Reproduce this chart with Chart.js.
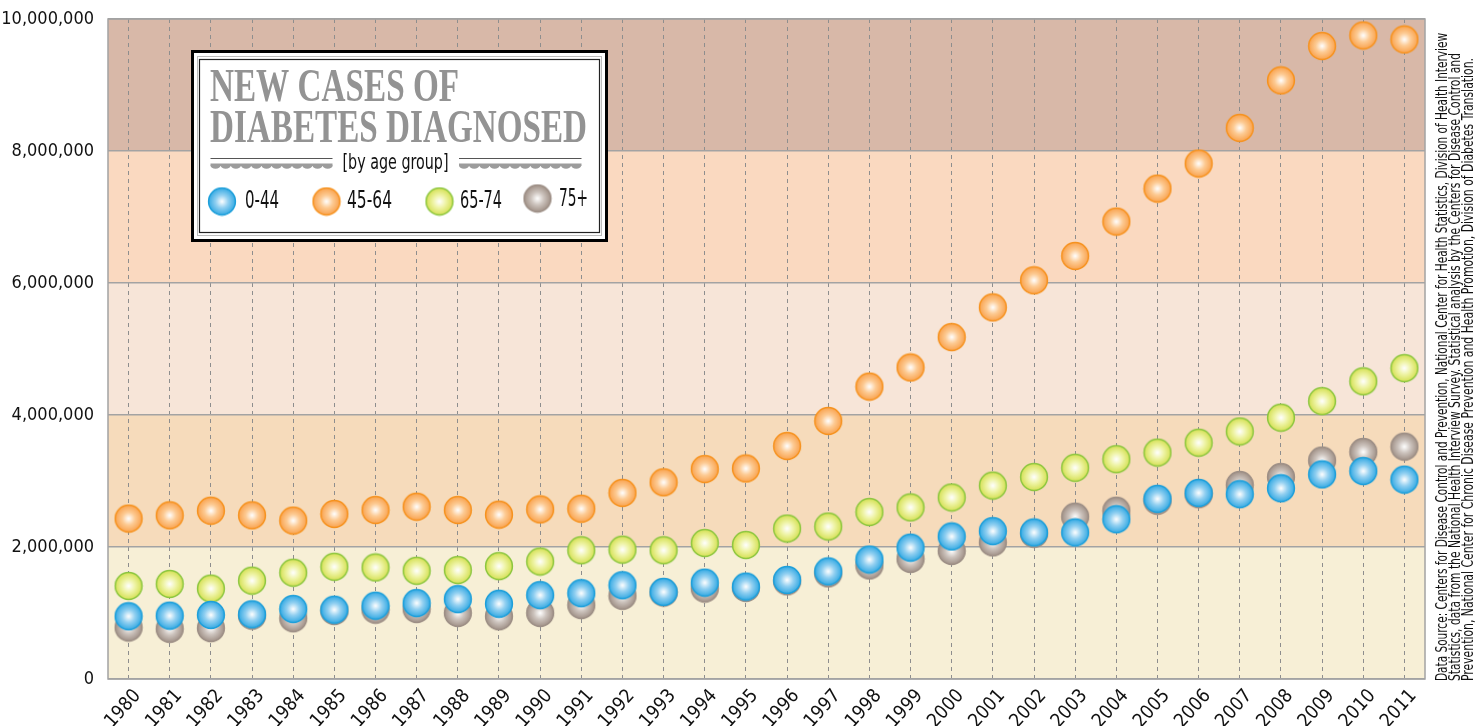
<!DOCTYPE html>
<html>
<head>
<meta charset="utf-8">
<title>New cases of diabetes diagnosed</title>
<script src="https://cdn.jsdelivr.net/npm/chart.js@4.4.1/dist/chart.umd.min.js"></script>
<style>
  html, body { margin: 0; padding: 0; background: #fff; }
  canvas { display: block; }
</style>
</head>
<body>
<canvas id="diabetes-canvas" width="1479" height="726"></canvas>
<script>
// values (people, new cases per year)
const years = ["1980","1981","1982","1983","1984","1985","1986","1987","1988","1989","1990",
  "1991","1992","1993","1994","1995","1996","1997","1998","1999","2000",
  "2001","2002","2003","2004","2005","2006","2007","2008","2009","2010","2011"];

const age0to44 = [950000, 960000, 970000, 980000, 1060000, 1050000, 1110000, 1150000, 1210000, 1140000, 1270000,
  1300000, 1420000, 1320000, 1460000, 1400000, 1500000, 1630000, 1810000, 1990000, 2160000,
  2240000, 2220000, 2220000, 2420000, 2730000, 2820000, 2800000, 2890000, 3100000, 3150000, 3020000];

const age45to64 = [2430000, 2480000, 2550000, 2480000, 2400000, 2500000, 2560000, 2610000, 2560000, 2490000, 2570000,
  2580000, 2820000, 2980000, 3180000, 3190000, 3530000, 3910000, 4430000, 4720000, 5180000,
  5630000, 6040000, 6410000, 6930000, 7430000, 7810000, 8350000, 9070000, 9590000, 9750000, 9690000];

const age65to74 = [1410000, 1440000, 1370000, 1490000, 1610000, 1700000, 1690000, 1640000, 1650000, 1710000, 1780000,
  1950000, 1960000, 1950000, 2060000, 2030000, 2280000, 2310000, 2530000, 2600000, 2750000,
  2930000, 3060000, 3200000, 3330000, 3430000, 3580000, 3750000, 3960000, 4210000, 4510000, 4710000];

const age75plus = [780000, 760000, 770000, 960000, 920000, 1030000, 1050000, 1060000, 1000000, 950000, 1000000,
  1120000, 1260000, 1310000, 1370000, 1380000, 1480000, 1600000, 1720000, 1820000, 1940000,
  2070000, 2200000, 2460000, 2550000, 2700000, 2800000, 2940000, 3060000, 3310000, 3440000, 3520000];

const yTicks = [0, 2000000, 4000000, 6000000, 8000000, 10000000];
const seriesNames = ["0-44", "45-64", "65-74", "75+"];

const sourceLines = [
  "Data Source: Centers for Disease Control and Prevention, National Center for Health Statistics, Division of Health Interview",
  "Statistics, data from the National Health Interview Survey. Statistical analysis by the Centers for Disease Control and",
  "Prevention, National Center for Chronic Disease Prevention and Health Promotion, Division of Diabetes Translation.",
];
const sourceWidths = [648, 628, 623];

// band colours from bottom (0-2M) to top (8-10M)
const bandColors = ["#f7efd6", "#f6dbbb", "#f7e5d8", "#fad9c0", "#d8b8a8"];

const narrow = '"Liberation Sans Narrow", "DejaVu Sans Condensed", "Roboto Condensed", sans-serif';

// shiny ball used as point style and in the legend box
function makeBall(mid, edge, border) {
  const c = document.createElement("canvas");
  c.width = 30;
  c.height = 30;
  const g = c.getContext("2d");
  const grad = g.createRadialGradient(15, 15, 0, 15, 15, 14);
  grad.addColorStop(0, "#ffffff");
  grad.addColorStop(0.45, mid);
  grad.addColorStop(1, edge);
  g.beginPath();
  g.arc(15, 15, 13.4, 0, Math.PI * 2);
  g.fillStyle = grad;
  g.fill();
  g.lineWidth = 1.5;
  g.strokeStyle = border;
  g.stroke();
  return c;
}

const balls = [
  makeBall("#92d0f1", "#2fa7e2", "#1d9fda"),
  makeBall("#fdcb94", "#f9a04a", "#f6921e"),
  makeBall("#eff4a6", "#d3df4f", "#8cc63f"),
  makeBall("#cdc4be", "#9d8d83", "#9d8f86"),
];

const fmt = (v) => Number(v).toLocaleString("en-US");

// background bands + outer frame
const bands = {
  id: "bands",
  beforeDraw(chart) {
    const { ctx, chartArea: a, scales: { y } } = chart;
    ctx.save();
    for (let i = 0; i < yTicks.length - 1; i++) {
      const top = y.getPixelForValue(yTicks[i + 1]);
      const bot = y.getPixelForValue(yTicks[i]);
      ctx.fillStyle = bandColors[i];
      ctx.fillRect(a.left, top, a.right - a.left, bot - top);
    }
    ctx.restore();
  },
  beforeDatasetsDraw(chart) {
    const { ctx, chartArea: a } = chart;
    ctx.save();
    ctx.strokeStyle = "#a3a3a3";
    ctx.lineWidth = 1.5;
    ctx.strokeRect(a.left, a.top, a.right - a.left, a.bottom - a.top);
    ctx.restore();
  },
};

// title / legend box and the rotated data source note
const decor = {
  id: "decor",
  afterDraw(chart) {
    const { ctx } = chart;
    ctx.save();

    // box
    ctx.fillStyle = "#fff";
    ctx.fillRect(192, 51, 415, 190);
    ctx.strokeStyle = "#000";
    ctx.lineWidth = 3;
    ctx.strokeRect(192.5, 51.5, 414, 189);
    ctx.strokeStyle = "#bdbdbd";
    ctx.lineWidth = 1;
    ctx.strokeRect(197.5, 56.5, 404, 179);
    ctx.strokeStyle = "#222";
    ctx.lineWidth = 1.2;
    ctx.strokeRect(199.5, 59.5, 400, 173);

    // title
    ctx.fillStyle = "#939393";
    ctx.font = 'bold 46px "Liberation Serif", "DejaVu Serif", serif';
    ctx.textBaseline = "alphabetic";
    ctx.textAlign = "left";
    ctx.fillText("NEW CASES OF", 210, 101, 249);
    ctx.fillText("DIABETES DIAGNOSED", 210, 141.5, 377);

    // [by age group] with ornamental rules
    ctx.fillStyle = "#111";
    ctx.font = "22px " + narrow;
    ctx.textAlign = "center";
    ctx.textBaseline = "middle";
    ctx.fillText("[by age group]", 395.5, 163, 106);

    [[210.5, 332.5], [459, 581.5]].forEach(([x0, x1]) => {
      ctx.strokeStyle = "#555";
      ctx.lineWidth = 1;
      ctx.beginPath();
      ctx.moveTo(x0, 158.5);
      ctx.lineTo(x1, 158.5);
      ctx.stroke();
      ctx.fillStyle = "#9c9c9c";
      ctx.fillRect(x0, 163.5, x1 - x0, 2.5);
      for (let x = x0 + 5; x < x1; x += 10.2) {
        ctx.beginPath();
        ctx.ellipse(x, 165.5, 5, 3.2, 0, 0, Math.PI);
        ctx.fill();
      }
    });

    // legend entries
    const items = [
      { x: 222, y: 201.5, tx: 245, ty: 202, w: 34 },
      { x: 326.5, y: 201.5, tx: 347, ty: 202, w: 45 },
      { x: 439.5, y: 201.5, tx: 460, ty: 202, w: 42 },
      { x: 537.5, y: 198.5, tx: 559, ty: 200, w: 29 },
    ];
    ctx.font = "24px " + narrow;
    ctx.textAlign = "left";
    ctx.fillStyle = "#111";
    items.forEach((it, i) => {
      ctx.drawImage(balls[i], it.x - 15, it.y - 15);
      ctx.fillText(seriesNames[i], it.tx, it.ty, it.w);
    });

    // data source, rotated
    ctx.translate(1447, 681);
    ctx.rotate(-Math.PI / 2);
    ctx.font = "15px " + narrow;
    ctx.textBaseline = "alphabetic";
    ctx.fillStyle = "#111";
    sourceLines.forEach((line, i) => ctx.fillText(line, 0, i * 13, sourceWidths[i]));

    ctx.restore();
  },
};

const pointSet = (label, data, i) => ({
  label,
  data,
  showLine: false,
  pointStyle: balls[i],
  pointRadius: 14,
  pointHoverRadius: 14,
  backgroundColor: balls[i],
});

new Chart(document.getElementById("diabetes-canvas"), {
  type: "line",
  data: {
    labels: years,
    datasets: [
      pointSet(seriesNames[0], age0to44, 0),
      pointSet(seriesNames[1], age45to64, 1),
      pointSet(seriesNames[2], age65to74, 2),
      pointSet(seriesNames[3], age75plus, 3),
    ],
  },
  options: {
    responsive: false,
    animation: false,
    layout: { padding: { top: 19, right: 54, left: 0, bottom: 0 } },
    plugins: {
      legend: { display: false },
      tooltip: {
        callbacks: { label: (c) => `${c.dataset.label}: ${fmt(c.raw)}` },
      },
    },
    scales: {
      x: {
        offset: true,
        grid: { offset: false, color: "#8e8e8e", lineWidth: 1, drawTicks: false },
        border: { display: false, dash: [4, 4] },
        ticks: {
          autoSkip: false,
          minRotation: 48,
          maxRotation: 48,
          padding: 6,
          labelOffset: 9,
          color: "#111",
          font: { family: narrow, size: 19 },
        },
        afterFit: (s) => { s.height = 47; s.paddingLeft = 0; s.paddingRight = 0; },
      },
      y: {
        min: 0,
        max: 10000000,
        afterBuildTicks: (s) => { s.ticks = yTicks.map((v) => ({ value: v })); },
        grid: { color: "#a3a3a3", lineWidth: 1.5, drawTicks: false },
        border: { display: false },
        ticks: {
          padding: 14,
          color: "#111",
          font: { family: narrow, size: 18 },
          callback: (v) => fmt(v),
        },
        afterFit: (s) => { s.width = 108; s.paddingTop = 0; s.paddingBottom = 0; },
      },
    },
  },
  plugins: [bands, decor],
});
</script>
</body>
</html>
